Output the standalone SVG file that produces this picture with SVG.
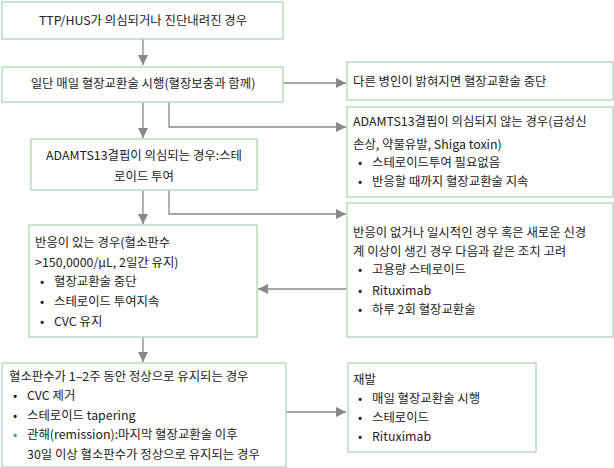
<svg xmlns="http://www.w3.org/2000/svg" width="614" height="468" viewBox="0 0 614 468">
<defs>
<marker id="ah" viewBox="0 0 10 10" refX="10" refY="5" markerWidth="10" markerHeight="10" markerUnits="userSpaceOnUse" orient="auto"><path d="M0,0L10,5L0,10z" fill="#888"/></marker>
<style>
.b{fill:#fff;stroke:#b5dcbc;stroke-width:1.5}
.c{fill:none;stroke:#888;stroke-width:1.3}
text{font-family:"Noto Sans CJK KR","Noto Sans",sans-serif;font-size:12.4px;fill:#222}
.m{text-anchor:middle}
.t{fill:#3a9e94}
</style>
</defs>
<g id="connectors">
<path class="c" d="M143,39V65" marker-end="url(#ah)"/>
<path class="c" d="M283,83H346" marker-end="url(#ah)"/>
<path class="c" d="M143,102V138" marker-end="url(#ah)"/>
<path class="c" d="M169,102V127H346" marker-end="url(#ah)"/>
<path class="c" d="M143,190V224" marker-end="url(#ah)"/>
<path class="c" d="M169,190V214H346" marker-end="url(#ah)"/>
<path class="c" d="M347,289H258" marker-end="url(#ah)"/>
<path class="c" d="M143,337V362" marker-end="url(#ah)"/>
<path class="c" d="M286,412H346" marker-end="url(#ah)"/>
</g>
<g id="n1"><rect class="b" x="2" y="2" width="281" height="37"/><text class="m" x="143" y="25">TTP/HUS가 의심되거나 진단내려진 경우</text></g>
<g id="n2"><rect class="b" x="2" y="67" width="281" height="35"/><text class="m" x="143" y="88">일단 매일 혈장교환술 시행(혈장보충과 함께)</text></g>
<g id="n3"><rect class="b" x="347" y="62" width="266" height="38"/><text x="353" y="86">다른 병인이 밝혀지면 혈장교환술 중단</text></g>
<g id="n4"><rect class="b" x="347" y="107" width="266" height="90"/>
<text x="353" y="126">ADAMTS13결핍이 의심되지 않는 경우(급성신</text>
<text x="353" y="149">손상, 약물유발, Shiga toxin)</text>
<text x="358" y="167">•</text><text x="372" y="167">스테로이드투여 필요없음</text>
<text x="358" y="186">•</text><text x="372" y="186">반응할 때까지 혈장교환술 지속</text></g>
<g id="n5"><rect class="b" x="31" y="139" width="226" height="51"/>
<text class="m" x="144" y="160">ADAMTS13결핍이 의심되는 경우:스테</text>
<text class="m" x="144" y="181">로이드 투여</text></g>
<g id="n6"><rect class="b" x="347" y="203" width="266" height="134"/>
<text x="353" y="237">반응이 없거나 일시적인 경우 혹은 새로운 신경</text>
<text x="353" y="256">계 이상이 생긴 경우 다음과 같은 조치 고려</text>
<text x="358" y="274">•</text><text x="372" y="274">고용량 스테로이드</text>
<text x="358" y="295">•</text><text x="372" y="295">Rituximab</text>
<text x="358" y="314">•</text><text x="372" y="314">하루 2회 혈장교환술</text></g>
<g id="n7"><rect class="b" x="29" y="225" width="228" height="112"/>
<text x="35" y="247">반응이 있는 경우(혈소판수</text>
<text x="35" y="267">&gt;150,0000/μL, 2일간 유지)</text>
<text x="40" y="286">•</text><text x="54" y="286">혈장교환술 중단</text>
<text x="40" y="306">•</text><text x="54" y="306">스테로이드 투여지속</text>
<text x="40" y="326">•</text><text x="54" y="326">CVC 유지</text></g>
<g id="n8"><rect class="b" x="2" y="363" width="284" height="104"/>
<text x="9" y="381">혈소판수가 1–2주 동안 정상으로 유지되는 경우</text>
<text x="13" y="400">•</text><text x="27" y="400">CVC 제거</text>
<text x="13" y="420">•</text><text x="27" y="420">스테로이드 tapering</text>
<text class="t" x="13" y="439">•</text><text x="27" y="439">관해(remission):마지막 혈장교환술 이후</text>
<text x="27" y="459">30일 이상 혈소판수가 정상으로 유지되는 경우</text></g>
<g id="n9"><rect class="b" x="348" y="363" width="188" height="89"/>
<text x="353" y="384">재발</text>
<text x="358" y="403">•</text><text x="372" y="403">매일 혈장교환술 시행</text>
<text x="358" y="422">•</text><text x="372" y="422">스테로이드</text>
<text x="358" y="441">•</text><text x="372" y="441">Rituximab</text></g>
</svg>
